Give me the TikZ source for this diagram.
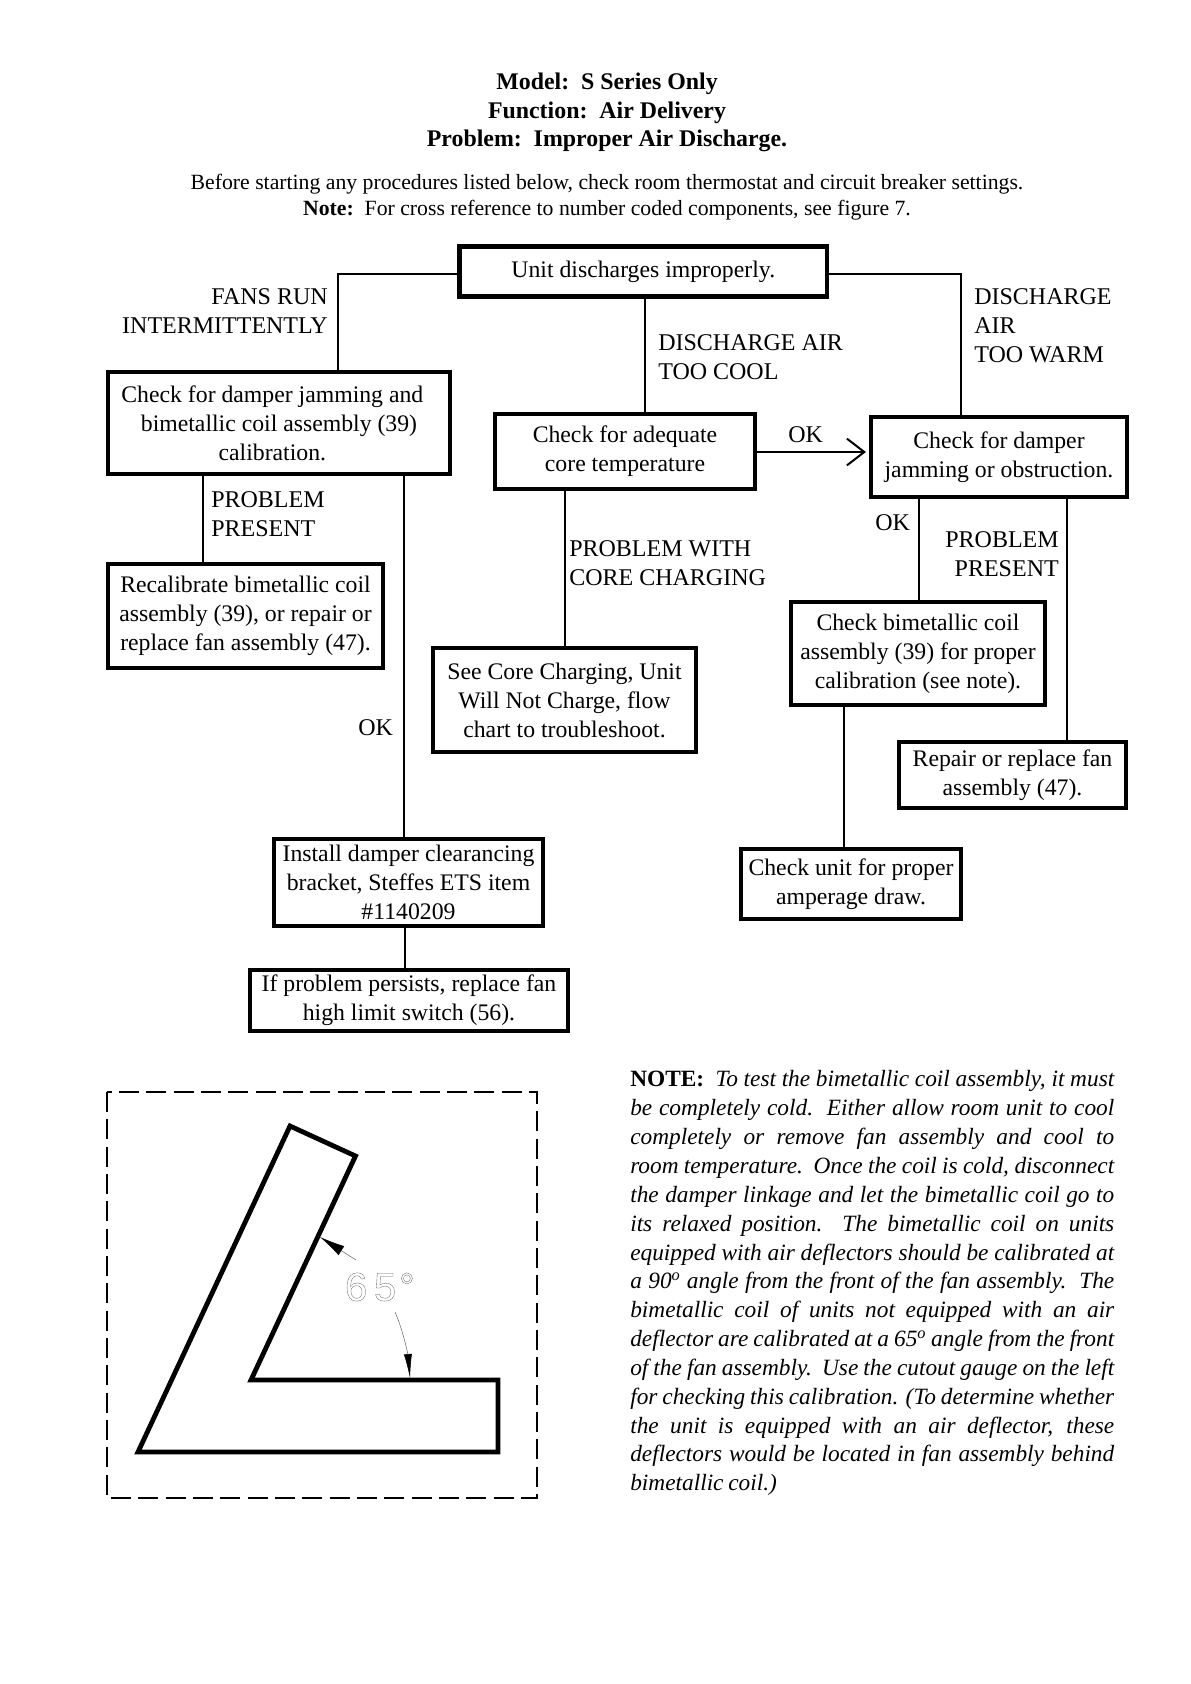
\documentclass[tikz,border=0pt]{standalone}
\usepackage{fontspec}
\setmainfont{Liberation Serif}
\newfontfamily\gaugefont{Liberation Sans}
\usetikzlibrary{arrows.meta}

\begin{document}
\begin{tikzpicture}[
  x=0.75pt, y=-0.75pt,
  font=\fontsize{17.8}{21.75}\selectfont,
  box/.style={draw=black, line width=3.6pt, align=center, inner sep=0pt},
  flow/.style={draw=black, line width=1.5pt},
  lbl/.style={font=\fontsize{18}{21.75}\selectfont, align=left, inner sep=0pt, anchor=west},
  lblr/.style={lbl, align=right, anchor=east},
  headline/.style={font=\fontsize{17.9}{21.4}\selectfont\bfseries, align=center, inner sep=0pt},
  subline/.style={font=\fontsize{16.3}{19.3}\selectfont, align=center, inner sep=0pt},
]
\useasboundingbox (0,0) rectangle (1191,1684);

% ---- heading ----
\node[headline] (head) at (607,112.6) {Model:\ \ S Series Only\\Function:\ \ Air Delivery\\Problem:\ \ Improper Air Discharge.};
\node[subline] (sub) at (607,197) {Before starting any procedures listed below, check room thermostat and circuit breaker settings.\\
  \textbf{Note:}\ \ For cross reference to number coded components, see figure 7.};

% ---- boxes ----
\node[box, minimum width=275.6pt, minimum height=37.25pt] (unit) at (643.3,271.5) {Unit discharges improperly.};
\node[box, minimum width=256.5pt, minimum height=76.5pt] (jamcoil) at (279,423)
      {Check for damper jamming and\hspace*{10pt}\\bimetallic coil assembly (39)\hspace*{10pt}\\calibration.\hspace*{10pt}};
\node[box, minimum width=195pt, minimum height=56.25pt] (core) at (625,451.5) {Check for adequate\\core temperature};
\node[box, minimum width=192pt, minimum height=60pt] (jam) at (999,457) {Check for damper\\jamming or obstruction.};
\node[box, minimum width=206.25pt, minimum height=78pt] (recal) at (245.5,616)
      {Recalibrate bimetallic coil\\assembly (39), or repair or\\replace fan assembly (47).};
\node[box, minimum width=197.25pt, minimum height=78pt] (charging) at (564.5,700)
      {See Core Charging, Unit\\Will Not Charge, flow\\chart to troubleshoot.};
\node[box, minimum width=190.5pt, minimum height=77.25pt] (coil) at (918,653.5)
      {Check bimetallic coil\\assembly (39) for proper\\calibration (see note).};
\node[box, minimum width=170.25pt, minimum height=49.5pt] (repair) at (1012.5,775) {Repair or replace fan\\assembly (47).};
\node[box, minimum width=165pt, minimum height=52.5pt] (amps) at (851,884) {Check unit for proper\\amperage draw.};
\node[box, minimum width=201.75pt, minimum height=65.25pt] (bracket) at (408.5,882.5)
      {Install damper clearancing\\bracket, Steffes ETS item\\\#1140209};
\node[box, minimum width=238.5pt, minimum height=45.75pt] (limit) at (409,1000.5) {If problem persists, replace fan\\high limit switch (56).};

% ---- labels ----
\node[lblr] (fans) at (328,311) {FANS RUN\\INTERMITTENTLY};
\node[lbl] (cool) at (658,357) {DISCHARGE AIR\\TOO COOL};
\node[lbl] (warm) at (974,325.5) {DISCHARGE\\AIR\\TOO WARM};
\node[lbl] (okcore) at (788,435) {OK};
\node[lbl] (present) at (211,514.5) {PROBLEM\\PRESENT};
\node[lbl] (okjam) at (358,728) {OK};
\node[lbl] (withcore) at (569,563.5) {PROBLEM WITH\\CORE CHARGING};
\node[lbl] (okcoil) at (875,523) {OK};
\node[lblr] (presentr) at (1059,554.5) {PROBLEM\\PRESENT};

% ---- flows ----
\draw[flow] (unit.west |- 0,273.5) -| (338,0 |- jamcoil.north);
\draw[flow] (unit.east |- 0,273.5) -| (961,0 |- jam.north);
\draw[flow] (645,0 |- unit.south) -- (645,0 |- core.north);
\draw[flow, -{Straight Barb[length=13pt,width=20pt]}, shorten >=2pt] (core.east |- 0,452) -- (jam.west |- 0,452);
\draw[flow] (203,0 |- jamcoil.south) -- (203,0 |- recal.north);
\draw[flow] (404,0 |- jamcoil.south) -- (404,0 |- bracket.north);
\draw[flow] (565,0 |- core.south) -- (565,0 |- charging.north);
\draw[flow] (919,0 |- jam.south) -- (919,0 |- coil.north);
\draw[flow] (1067,0 |- jam.south) -- (1067,0 |- repair.north);
\draw[flow] (844,0 |- coil.south) -- (844,0 |- amps.north);
\draw[flow] (405,0 |- bracket.south) -- (405,0 |- limit.north);

% ---- cutout gauge ----
\draw[line width=1.5pt, dash pattern=on 15pt off 5.5pt] (107,1092) rectangle (537,1498);
\draw[line width=3.6pt] (138,1452) -- (498,1452) -- (498,1380) -- (251,1380) -- (355.5,1156) -- (290,1126) -- cycle;
\node[inner sep=0pt, text=black!60] (angle) at (380,1287)
  {\gaugefont\fontsize{30}{30}\selectfont\special{pdf:code 1 Tr 0.25 w}6\,5\hspace{2pt}°\special{pdf:code 0 Tr}};
\coordinate (upper) at (320,1237);
\coordinate (lower) at (410,1378);
\draw[black!60, line width=0.4pt, -{Latex[length=19pt,width=8pt,color=black]}] (356,1260) -- (upper);
\draw[black!60, line width=0.4pt, -{Latex[length=18pt,width=6pt,color=black]}] (395,1312) .. controls (403,1330) and (408,1355) .. (lower);

% ---- note ----
\node[anchor=north west, inner sep=0pt, text width=363pt, align=justify,
      font=\fontsize{17.5}{21.63}\selectfont\itshape] (note) at (630,1070.5)
  {\tolerance=9999 \spaceskip=0.2em plus 0.4em minus 0.05em
   \textbf{\upshape NOTE:}\ \ To test the bimetallic coil assembly, it must\linebreak
   be completely cold.\ \ Either allow room unit to cool\linebreak
   completely or remove fan assembly and cool to\linebreak
   room temperature.\ \ Once the coil is cold, disconnect\linebreak
   the damper linkage and let the bimetallic coil go to\linebreak
   its relaxed position.\ \ The bimetallic coil on units\linebreak
   equipped with air deflectors should be calibrated at\linebreak
   a 90\textsuperscript{o} angle from the front of the fan assembly.\ \ The\linebreak
   bimetallic coil of units not equipped with an air\linebreak
   deflector are calibrated at a 65\textsuperscript{o} angle from the front\linebreak
   of the fan assembly.\ \ Use the cutout gauge on the left\linebreak
   for checking this calibration. (To determine whether\linebreak
   the unit is equipped with an air deflector, these\linebreak
   deflectors would be located in fan assembly behind\linebreak
   bimetallic coil.)};
\end{tikzpicture}
\end{document}
